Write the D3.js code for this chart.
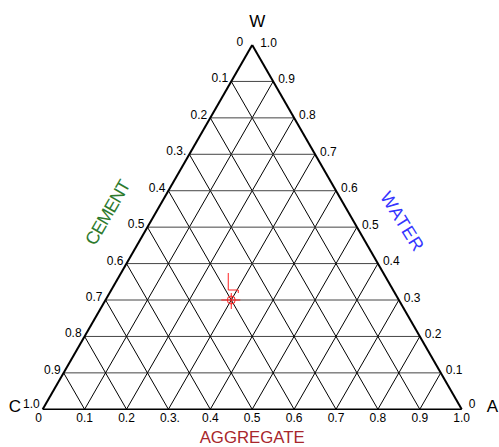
<!DOCTYPE html>
<html><head><meta charset="utf-8">
<script src="https://cdn.jsdelivr.net/npm/d3@7"></script>
<style>
html,body{margin:0;padding:0;background:#fff;}
svg{display:block;}
text{font-family:"Liberation Sans",Arial,sans-serif;}
</style></head>
<body>
<svg id="chart" width="499" height="447"></svg>
<script>
// ---- data ----
const gridSteps = [0.1,0.2,0.3,0.4,0.5,0.6,0.7,0.8,0.9];
const tickValues = [0,0.1,0.2,0.3,0.4,0.5,0.6,0.7,0.8,0.9,1.0];
const cementTickLabels = ["0","0.1","0.2","0.3.","0.4","0.5","0.6","0.7","0.8","0.9","1.0"];
const waterTickLabels = ["0","0.1","0.2","0.3","0.4","0.5","0.6","0.7","0.8","0.9","1.0"];
const aggregateTickLabels = ["0","0.1","0.2","0.3.","0.4","0.5","0.6","0.7","0.8","0.9","1.0"];
const vertexNames = ["C","A","W"];
const axisTitles = ["CEMENT","WATER","AGGREGATE"];
// marked mix: cement, water, aggregate
const markerPoint = {cement:0.4, water:0.3, aggregate:0.3};

// ---- scales ----
const svg = d3.select("#chart");
const x = d3.scaleLinear().domain([0,1]).range([42.7,461.7]);
const y = d3.scaleLinear().domain([0,1]).range([409.3,45]);
// position from (aggregate, water)
const P = (a,w) => [x(a + w/2), y(w)];

const g = svg.append("g");

// grid lines
const lines = [];
gridSteps.forEach(k=>{
  lines.push({p1:P(0,k), p2:P(1-k,k), type:"h"});          // constant water
  lines.push({p1:P(k,0), p2:P(k,1-k), type:"a"});          // constant aggregate
  lines.push({p1:P(1-k,0), p2:P(0,1-k), type:"c"});        // constant cement
});
g.selectAll("line.grid").data(lines).join("line")
  .attr("class","grid")
  .attr("x1",d=>d.p1[0]).attr("y1",d=>d.p1[1])
  .attr("x2",d=>d.p2[0]).attr("y2",d=>d.p2[1])
  .attr("stroke",d=>d.type==="h"?"#444":"#000")
  .attr("stroke-width",1);

// outer triangle
const Cv=P(0,0), Av=P(1,0), Wv=P(0,1);
g.append("line").attr("x1",Cv[0]).attr("y1",Cv[1]).attr("x2",Av[0]).attr("y2",Av[1]).attr("stroke","#000").attr("stroke-width",1.5);
g.append("line").attr("x1",Cv[0]).attr("y1",Cv[1]).attr("x2",Wv[0]).attr("y2",Wv[1]).attr("stroke","#000").attr("stroke-width",2);
g.append("line").attr("x1",Av[0]).attr("y1",Av[1]).attr("x2",Wv[0]).attr("y2",Wv[1]).attr("stroke","#000").attr("stroke-width",2);

const fs = 12;
// cement labels (left edge): cement v -> a=0, w=1-v
g.selectAll("text.cem").data(tickValues).join("text")
  .attr("class","cem")
  .attr("x",(v,i)=>P(0,1-v)[0] - (v===0?9:3))
  .attr("y",(v,i)=>P(0,1-v)[1] + (v===0?1:(v===1?-1:1)))
  .attr("text-anchor","end").attr("font-size",fs).attr("fill","#000")
  .text((v,i)=>cementTickLabels[i]);

// water labels (right edge): water v -> a=1-v, w=v
g.selectAll("text.wat").data(tickValues).join("text")
  .attr("class","wat")
  .attr("x",v=>P(1-v,v)[0] + (v===1?8:(v===0?7:5)))
  .attr("y",v=>P(1-v,v)[1] + (v===0?-1:1.5))
  .attr("text-anchor","start").attr("font-size",fs).attr("fill","#000")
  .text((v,i)=>waterTickLabels[i]);

// aggregate labels (bottom)
g.selectAll("text.agg").data(tickValues).join("text")
  .attr("class","agg")
  .attr("x",(v,i)=>P(v,0)[0] + (aggregateTickLabels[i].endsWith(".")&&v>0?1.5:0) + (v===0?-4:0))
  .attr("y",v=>P(v,0)[1] + 13)
  .attr("text-anchor","middle").attr("font-size",fs).attr("fill","#000")
  .text((v,i)=>aggregateTickLabels[i]);

// vertex names
g.append("text").attr("x",Cv[0]-34).attr("y",Cv[1]+3).attr("font-size",17).attr("text-anchor","start").text(vertexNames[0]);
g.append("text").attr("x",Av[0]+25).attr("y",Av[1]+3).attr("font-size",17).attr("text-anchor","start").text(vertexNames[1]);
g.append("text").attr("x",Wv[0]+5).attr("y",27).attr("font-size",17).attr("text-anchor","middle").text(vertexNames[2]);

// axis titles
g.append("text").attr("transform","translate(109,213) rotate(-60)")
  .attr("text-anchor","middle").attr("dominant-baseline","middle")
  .attr("font-size",18).attr("fill","#2d7a2d")
  .attr("textLength",72).attr("lengthAdjust","spacing")
  .text(axisTitles[0]);
g.append("text").attr("transform","translate(401,222) rotate(58)")
  .attr("text-anchor","middle").attr("dominant-baseline","middle")
  .attr("font-size",18).attr("fill","#3535ff")
  .attr("textLength",66).attr("lengthAdjust","spacing")
  .text(axisTitles[1]);
g.append("text").attr("x",(Cv[0]+Av[0])/2).attr("y",443)
  .attr("text-anchor","middle").attr("font-size",17).attr("fill","#a8262b")
  .attr("textLength",105).attr("lengthAdjust","spacingAndGlyphs")
  .text(axisTitles[2]);

// marker
const m = P(markerPoint.aggregate, markerPoint.water);
const mk = g.append("g").attr("stroke","#ff2020").attr("fill","none").attr("stroke-width",1);
mk.append("circle").attr("cx",m[0]).attr("cy",m[1]).attr("r",4);
mk.append("line").attr("x1",m[0]-10).attr("x2",m[0]+9).attr("y1",m[1]).attr("y2",m[1]);
mk.append("line").attr("x1",m[0]).attr("x2",m[0]).attr("y1",m[1]-7).attr("y2",m[1]+9);
mk.append("path").attr("d",`M${m[0]-3},${m[1]-27} V${m[1]-10} H${m[0]+7} V${m[1]-7}`);
</script>
</body></html>
